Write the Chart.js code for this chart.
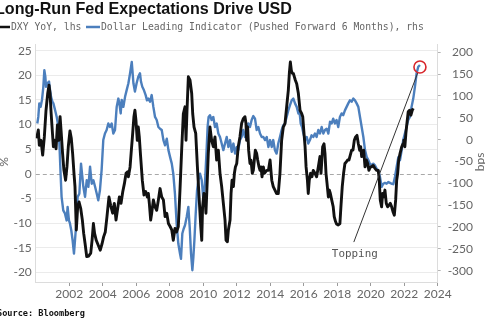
<!DOCTYPE html>
<html>
<head>
<meta charset="utf-8">
<script src="https://cdn.jsdelivr.net/npm/chart.js@4.4.1/dist/chart.umd.min.js"></script>
<style>
  html, body { margin: 0; padding: 0; background: #ffffff; }
  #wrap { width: 485px; height: 326px; position: relative; }
</style>
</head>
<body>
<div id="wrap"><canvas id="chart" width="485" height="326"></canvas></div>
<script>
// DXY year-over-year change (%), left axis
const dxyDates = [
  2000.05,2000.15,2000.21,2000.31,2000.41,2000.51,2000.61,2000.71,2000.79,2000.85,2000.91,2000.97,
  2001.05,2001.13,2001.21,2001.29,2001.37,2001.45,2001.52,2001.60,2001.68,2001.78,2001.86,2001.94,
  2002.04,2002.12,2002.20,2002.28,2002.34,2002.42,2002.50,2002.58,2002.68,2002.78,2002.86,2002.94,
  2003.04,2003.16,2003.28,2003.36,2003.44,2003.51,2003.61,2003.73,2003.85,2003.95,
  2004.05,2004.15,2004.25,2004.37,2004.47,2004.59,2004.69,2004.79,2004.89,2004.99,
  2005.09,2005.19,2005.29,2005.39,2005.48,2005.53,2005.63,2005.69,2005.77,2005.86,2005.92,2005.98,
  2006.06,2006.12,2006.18,2006.26,2006.36,2006.46,2006.56,2006.66,2006.72,2006.78,2006.86,2006.92,
  2007.02,2007.12,2007.22,2007.32,2007.42,2007.52,2007.62,2007.72,2007.82,2007.92,
  2008.02,2008.12,2008.21,2008.31,2008.41,2008.51,2008.61,2008.71,2008.81,2008.91,2008.97,
  2009.03,2009.11,2009.21,2009.31,2009.37,2009.45,2009.55,2009.65,2009.75,2009.85,2009.91,2009.96,
  2010.04,2010.10,2010.16,2010.24,2010.30,2010.40,2010.50,2010.60,2010.70,2010.80,2010.90,
  2011.00,2011.10,2011.20,2011.30,2011.36,2011.44,2011.50,2011.60,2011.66,2011.72,2011.80,2011.86,2011.92,
  2012.00,2012.09,2012.19,2012.29,2012.39,2012.49,2012.55,2012.59,2012.65,2012.71,2012.79,2012.85,2012.93,2012.99,
  2013.05,2013.11,2013.19,2013.25,2013.33,2013.39,2013.45,2013.51,2013.59,2013.65,2013.79,2013.89,2013.99,
  2014.09,2014.18,2014.28,2014.38,2014.48,2014.58,2014.68,2014.78,2014.88,2014.98,
  2015.08,2015.14,2015.20,2015.26,2015.32,2015.38,2015.44,2015.50,2015.58,2015.68,2015.78,2015.88,2015.94,
  2016.00,2016.08,2016.14,2016.22,2016.27,2016.33,2016.41,2016.49,2016.57,2016.67,2016.77,2016.87,2016.97,
  2017.03,2017.07,2017.13,2017.21,2017.27,2017.33,2017.39,2017.47,2017.53,2017.59,2017.67,2017.76,2017.82,2017.90,2017.96,
  2018.06,2018.16,2018.22,2018.30,2018.38,2018.46,2018.54,2018.62,2018.70,2018.78,2018.86,2018.94,
  2019.02,2019.10,2019.18,2019.26,2019.34,2019.40,2019.46,2019.52,2019.58,2019.66,2019.74,2019.82,2019.89,2019.97,
  2020.05,2020.15,2020.25,2020.35,2020.45,2020.51,2020.57,2020.65,2020.71,2020.77,2020.85,2020.93,
  2021.01,2021.09,2021.17,2021.25,2021.33,2021.41,2021.49,2021.55,2021.61,2021.67,2021.75,2021.85,2021.93,2021.98,
  2022.04,2022.10,2022.16,2022.24,2022.32,2022.40,2022.48,2022.54
];
const dxyValues = [
  7.2,8.9,5.8,6.8,3.8,7.5,12.9,16.3,18.0,16.3,12.6,9.5,
  5.5,6.8,5.1,9.9,6.8,11.6,8.2,4.1,0.7,-1.3,1.4,5.5,
  8.7,7.2,4.1,0.1,-2.6,-11.4,-6.7,-5.7,-7.0,-9.4,-12.1,-14.1,
  -16.8,-16.7,-16.1,-13.5,-10.1,-12.1,-13.5,-14.5,-15.5,-14.3,
  -12.8,-11.8,-8.7,-4.7,-6.4,-8.0,-6.0,-9.4,-7.0,-4.7,
  -6.0,-3.7,-2.0,0.1,0.4,-0.6,1.4,4.1,7.5,11.6,12.9,10.9,
  6.8,9.5,7.5,3.5,-1.3,-4.3,-3.6,-4.7,-4.0,-6.0,-9.4,-8.0,
  -5.3,-6.7,-7.4,-5.3,-3.0,-4.7,-5.3,-8.7,-8.0,-10.1,
  -10.7,-11.4,-13.5,-11.1,-11.8,-10.7,-3.3,4.8,12.2,13.6,6.8,
  12.9,19.7,19.0,16.3,12.2,9.5,8.2,1.4,-4.7,-10.7,-13.5,-6.7,
  -4.0,-4.7,-8.0,-1.3,4.1,9.5,6.8,5.5,7.5,2.8,4.8,
  0.1,-2.6,-6.0,-9.4,-13.5,-13.8,-11.4,-9.4,-4.0,-1.3,-2.6,0.1,1.4,
  2.1,5.5,7.5,10.2,11.2,11.6,10.2,6.8,9.5,4.8,2.1,2.8,0.1,0.7,
  2.8,4.8,4.1,2.8,1.4,0.7,1.4,-0.6,1.4,0.1,0.7,0.7,2.8,
  -1.3,-2.6,-3.3,-4.0,-4.0,0.1,6.8,9.5,10.2,13.6,
  17.0,20.4,22.7,21.0,20.4,20.4,19.7,19.0,18.3,16.3,12.9,12.2,11.6,
  8.9,5.5,1.4,-1.3,-4.0,-1.3,0.1,-0.6,0.7,0.1,-0.6,1.4,3.5,
  0.1,2.1,5.5,6.1,4.1,0.1,-1.9,-4.7,-3.3,-4.0,-5.3,-6.7,-8.7,-9.7,-10.2,
  -10.4,-10.1,-6.7,-2.6,0.1,2.1,2.4,2.8,2.8,3.8,4.8,4.8,
  6.8,7.5,7.8,6.1,4.8,5.5,3.5,4.1,4.8,1.4,2.8,2.1,0.7,1.4,
  1.4,1.7,1.1,0.7,0.7,-1.3,-5.3,-6.7,-4.0,-4.7,-3.3,-6.0,
  -6.7,-6.4,-6.0,-6.7,-7.7,-8.4,-5.3,-1.3,0.1,2.8,4.1,5.5,6.1,6.8,
  5.5,8.2,10.2,12.6,12.9,11.9,12.9,13.3
];

// Dollar Leading Indicator, pushed forward 6 months (bps), right axis
const dliDates = [
  2000.09,2000.15,2000.21,2000.29,2000.37,2000.45,2000.51,2000.57,2000.61,2000.69,2000.79,2000.85,2000.91,2000.99,
  2001.05,2001.15,2001.25,2001.35,2001.41,2001.48,2001.54,2001.64,2001.74,2001.84,2001.90,2001.98,
  2002.04,2002.12,2002.20,2002.28,2002.34,2002.40,2002.44,2002.50,2002.60,2002.70,2002.78,2002.84,2002.94,
  2003.04,2003.14,2003.24,2003.34,2003.44,2003.54,2003.64,2003.73,2003.83,2003.93,
  2004.03,2004.13,2004.23,2004.33,2004.43,2004.53,2004.63,2004.73,2004.83,2004.93,2004.99,
  2005.07,2005.13,2005.23,2005.33,2005.43,2005.53,2005.63,2005.73,2005.83,2005.92,
  2006.02,2006.12,2006.22,2006.28,2006.36,2006.46,2006.56,2006.64,2006.72,2006.82,2006.92,
  2007.02,2007.12,2007.22,2007.32,2007.42,2007.52,2007.62,2007.72,2007.82,2007.92,
  2008.02,2008.12,2008.21,2008.31,2008.41,2008.51,2008.61,2008.67,2008.75,2008.83,2008.91,
  2009.01,2009.11,2009.19,2009.27,2009.35,2009.41,2009.47,2009.55,2009.63,2009.71,2009.81,2009.91,
  2010.01,2010.10,2010.20,2010.26,2010.32,2010.40,2010.50,2010.60,2010.70,2010.80,2010.90,
  2011.00,2011.10,2011.20,2011.30,2011.40,2011.50,2011.60,2011.70,2011.80,2011.90,
  2012.00,2012.09,2012.19,2012.29,2012.39,2012.49,2012.59,2012.69,2012.79,2012.89,2012.99,
  2013.09,2013.19,2013.29,2013.39,2013.49,2013.59,2013.69,2013.79,2013.89,2013.99,
  2014.09,2014.18,2014.28,2014.38,2014.48,2014.58,2014.68,2014.78,2014.88,2014.98,
  2015.08,2015.18,2015.28,2015.38,2015.48,2015.58,2015.68,2015.74,2015.82,2015.90,2015.98,
  2016.08,2016.18,2016.27,2016.37,2016.47,2016.57,2016.67,2016.77,2016.87,2016.97,
  2017.07,2017.17,2017.27,2017.37,2017.47,2017.57,2017.67,2017.76,2017.86,2017.96,
  2018.06,2018.16,2018.26,2018.36,2018.46,2018.56,2018.66,2018.76,2018.86,2018.96,
  2019.06,2019.16,2019.26,2019.36,2019.46,2019.56,2019.66,2019.76,2019.86,2019.95,
  2020.05,2020.15,2020.25,2020.35,2020.45,2020.55,2020.65,2020.75,2020.85,2020.95,
  2021.05,2021.15,2021.25,2021.35,2021.45,2021.55,2021.65,2021.75,2021.85,2021.94,
  2022.04,2022.14,2022.24,2022.34,2022.44,2022.54,2022.64,2022.74,2022.84,2022.94
];
const dliValues = [
  37,52,83,75,91,121,159,144,121,129,133,114,98,87,
  83,68,52,29,-9,-78,-131,-162,-169,-185,-154,-185,
  -192,-208,-231,-261,-231,-200,-169,-131,-124,-55,-85,-108,-131,
  -93,-108,-62,-101,-93,-108,-124,-139,-116,-70,
  -1,14,22,37,29,37,14,22,75,94,83,
  60,91,75,98,114,129,152,178,129,110,
  129,144,152,133,121,113,102,90,94,87,102,
  75,52,45,29,25,22,-1,-13,2,-24,
  -40,-55,-78,-124,-192,-238,-261,-273,-215,-204,-196,
  -177,-154,-200,-261,-299,-269,-231,-169,-116,-93,-78,-93,
  -139,-101,-24,29,52,56,45,52,29,37,14,
  6,-9,-24,-9,6,-17,-1,-28,-9,-32,
  -17,-24,-1,6,22,6,22,37,29,45,54,
  48,22,29,14,6,6,-1,6,-17,-1,
  -17,-1,-24,-32,-9,6,22,33,37,52,
  67,79,90,94,83,75,60,67,37,29,14,
  -1,6,-9,-1,10,6,14,6,22,14,
  29,14,22,25,14,41,37,48,37,45,
  29,52,60,56,67,75,83,90,87,94,
  90,83,75,52,29,6,-24,-40,-47,-55,
  -59,-55,-59,-66,-70,-85,-108,-101,-99,-101,
  -97,-99,-101,-102,-85,-62,-40,-47,-24,-1,
  14,29,45,52,75,94,121,152,167,171
];

// Axis ticks
const yearTicks = [2002, 2004, 2006, 2008, 2010, 2012, 2014, 2016, 2018, 2020, 2022, 2024];
const pctTicks = [-20, -15, -10, -5, 0, 5, 10, 15, 20, 25];
const bpsTicks = [-300, -250, -200, -150, -100, -50, 0, 50, 100, 150, 200];

const titleText = 'Long-Run Fed Expectations Drive USD';
const legendLabels = ['DXY YoY, lhs', 'Dollar Leading Indicator (Pushed Forward 6 Months), rhs'];
const sourceText = 'Source: Bloomberg';
const calloutText = 'Topping';
const calloutAt = { x: 2019.05, y: -16.3 };

const BLACK = '#111111';
const BLUE = '#4c7fbd';
const AXIS_FONT = { family: 'Lato', size: 12 };
const MONO = '"DejaVu Sans Mono", "Liberation Mono", monospace';

function toPoints(xs, ys) { return xs.map((x, i) => ({ x: x, y: ys[i] })); }
function fitSize(ctx, text, weight, family, width) {
  ctx.font = weight + ' 100px ' + family;
  return 100 * width / ctx.measureText(text).width;
}

const decorations = {
  id: 'decorations',
  beforeDatasetsDraw(chart) {
    const { ctx, chartArea: a } = chart;
    const y0 = chart.scales.y.getPixelForValue(0);
    ctx.save();
    ctx.strokeStyle = '#a8a8a8';
    ctx.lineWidth = 1;
    ctx.setLineDash([4, 3]);
    ctx.beginPath();
    ctx.moveTo(a.left, Math.round(y0) + 0.5);
    ctx.lineTo(a.right, Math.round(y0) + 0.5);
    ctx.stroke();
    ctx.restore();
  },
  afterDraw(chart) {
    const { ctx, chartArea: a } = chart;
    const xs = chart.scales.x, yl = chart.scales.y, yr = chart.scales.y1;
    ctx.save();

    // Title
    ctx.fillStyle = '#111';
    ctx.textBaseline = 'alphabetic';
    ctx.textAlign = 'left';
    let s = fitSize(ctx, titleText, 'bold', '"Liberation Sans", Arial, sans-serif', 297);
    ctx.font = 'bold ' + s + 'px "Liberation Sans", Arial, sans-serif';
    ctx.fillText(titleText, -5, 14);

    // Legend
    s = fitSize(ctx, legendLabels[1], 'normal', MONO, 323);
    ctx.font = s + 'px ' + MONO;
    ctx.textBaseline = 'middle';
    ctx.lineWidth = 2.5;
    ctx.strokeStyle = BLACK;
    ctx.beginPath(); ctx.moveTo(-1, 27); ctx.lineTo(10, 27); ctx.stroke();
    ctx.fillStyle = '#666';
    ctx.fillText(legendLabels[0], 11, 27.5);
    ctx.strokeStyle = BLUE;
    ctx.beginPath(); ctx.moveTo(86, 27); ctx.lineTo(100, 27); ctx.stroke();
    ctx.fillText(legendLabels[1], 101, 27.5);

    // Axis titles
    ctx.font = '12px Lato';
    ctx.fillStyle = '#666';
    ctx.textAlign = 'center';
    ctx.save();
    ctx.translate(4, 162); ctx.rotate(-Math.PI / 2); ctx.fillText('%', 0, 0);
    ctx.restore();
    ctx.save();
    ctx.translate(480, 162); ctx.rotate(-Math.PI / 2); ctx.fillText('bps', 0, 0);
    ctx.restore();

    // Source
    ctx.textAlign = 'left';
    ctx.fillStyle = '#111';
    s = fitSize(ctx, sourceText, 'bold', MONO, 88);
    ctx.font = 'bold ' + s + 'px ' + MONO;
    ctx.fillText(sourceText, -3, 314);

    // Callout: ring on the latest indicator reading, line down to the label
    const last = dliDates.length - 1;
    const cx = xs.getPixelForValue(dliDates[last]);
    const cy = yr.getPixelForValue(dliValues[last]) + 2;
    const tx = xs.getPixelForValue(calloutAt.x);
    const ty = yl.getPixelForValue(calloutAt.y);
    const lx = tx - 1, ly = ty - 12;
    const ang = Math.atan2(ly - cy, lx - cx);
    const r = 6;
    ctx.strokeStyle = '#333';
    ctx.lineWidth = 1;
    ctx.beginPath();
    ctx.moveTo(cx + Math.cos(ang) * r, cy + Math.sin(ang) * r);
    ctx.lineTo(lx, ly);
    ctx.stroke();
    ctx.strokeStyle = '#d8262c';
    ctx.lineWidth = 1.6;
    ctx.beginPath();
    ctx.arc(cx, cy, r, 0, Math.PI * 2);
    ctx.stroke();

    ctx.fillStyle = '#555';
    s = fitSize(ctx, calloutText, 'normal', MONO, 46);
    ctx.font = s + 'px ' + MONO;
    ctx.textAlign = 'center';
    ctx.textBaseline = 'middle';
    ctx.fillText(calloutText, tx, ty);
    ctx.restore();
  }
};

new Chart(document.getElementById('chart'), {
  type: 'line',
  data: {
    datasets: [
      {
        label: legendLabels[0],
        data: toPoints(dxyDates, dxyValues),
        yAxisID: 'y',
        borderColor: BLACK,
        borderWidth: 2.9,
        pointRadius: 0,
        tension: 0,
        borderJoinStyle: 'round',
        order: 0
      },
      {
        label: legendLabels[1],
        data: toPoints(dliDates, dliValues),
        yAxisID: 'y1',
        borderColor: BLUE,
        borderWidth: 2.4,
        pointRadius: 0,
        tension: 0,
        borderJoinStyle: 'round',
        order: 1
      }
    ]
  },
  options: {
    responsive: false,
    animation: false,
    events: [],
    layout: { padding: { top: 44, bottom: 20, left: 0, right: 12 } },
    plugins: { legend: { display: false }, title: { display: false }, tooltip: { enabled: false } },
    scales: {
      x: {
        type: 'linear',
        min: 2000,
        max: 2024,
        afterBuildTicks: (axis) => { axis.ticks = yearTicks.map(v => ({ value: v })); },
        afterFit: (axis) => { axis.height = 24; },
        ticks: { callback: (v) => String(v), font: AXIS_FONT, color: '#666', padding: 1, maxRotation: 0, autoSkip: false },
        grid: { drawOnChartArea: false, drawTicks: true, tickLength: 4, color: '#9a9a9a' },
        border: { display: true, color: '#dcdcdc' }
      },
      y: {
        position: 'left',
        min: -21.97,
        max: 26.36,
        afterBuildTicks: (axis) => { axis.ticks = pctTicks.map(v => ({ value: v })); },
        afterFit: (axis) => { axis.width = 35.8; },
        ticks: { font: AXIS_FONT, color: '#666', padding: 4 },
        grid: {
          drawTicks: false,
          color: (c) => (c.tick && c.tick.value === 0 ? 'rgba(0,0,0,0)' : '#ebebeb')
        },
        border: { display: true, color: '#dcdcdc' }
      },
      y1: {
        position: 'right',
        min: -326,
        max: 219,
        afterBuildTicks: (axis) => { axis.ticks = bpsTicks.map(v => ({ value: v })); },
        afterFit: (axis) => { axis.width = 35.3; },
        ticks: { font: AXIS_FONT, color: '#666', crossAlign: 'far', padding: 4 },
        grid: { drawOnChartArea: false, drawTicks: true, tickLength: 3, color: '#b5b5b5' },
        border: { display: true, color: '#dcdcdc' }
      }
    }
  },
  plugins: [decorations]
});
</script>
</body>
</html>
